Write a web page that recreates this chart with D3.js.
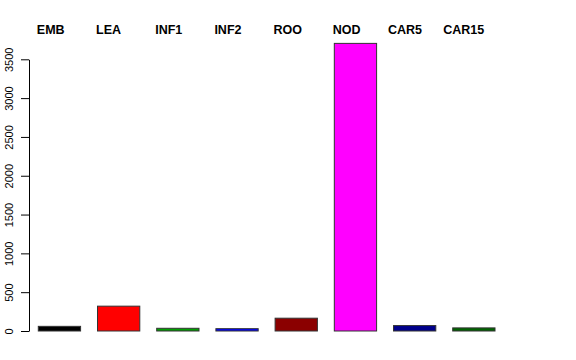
<!DOCTYPE html>
<html>
<head>
<meta charset="utf-8">
<script src="https://cdn.jsdelivr.net/npm/d3@7"></script>
<style>
body{margin:0;background:#fff}
svg{display:block}
text{font-family:"Liberation Sans",Arial,Helvetica,sans-serif}
</style>
</head>
<body>
<svg id="chart" width="576" height="360"></svg>
<script>
// tissues, counts and fill colours
var tissues = ["EMB","LEA","INF1","INF2","ROO","NOD","CAR5","CAR15"]
var counts = [60,320,35,30,165,3705,70,40]
var fills = ["#000000","#ff0000","#00a000","#0000ff","#8b0000","#ff00ff","#00008b","#006400"]
var yticks = [0,500,1000,1500,2000,2500,3000,3500]

var svg = d3.select("#chart")

var x = d3.scaleBand().domain(tissues).range([38.3,495]).paddingInner(0.4/1.4).paddingOuter(0)
var y = d3.scaleLinear().domain([0,3500]).range([331,59.3])

// bars
svg.append("g").selectAll("rect")
	.data(tissues)
	.enter().append("rect")
	.attr("x",function(d){return x(d)})
	.attr("width",x.bandwidth())
	.attr("y",function(d,i){return y(counts[i])})
	.attr("height",function(d,i){return y(0)-y(counts[i])})
	.attr("fill",function(d,i){return fills[i]})
	.attr("stroke","#333")
	.attr("stroke-width",1)

// left axis, R style: rotated labels
var ax = svg.append("g").attr("transform","translate(29,0)")
	.call(d3.axisLeft(y).tickValues(yticks).tickSize(8).tickSizeOuter(0).tickFormat(d3.format("d")))
ax.select(".domain").attr("stroke","#000")
ax.selectAll(".tick line").attr("stroke","#000")
ax.selectAll(".tick text")
	.attr("font-size",11)
	.attr("fill","#000")
	.attr("x",null).attr("dy",null)
	.attr("text-anchor","middle")
	.attr("transform","translate(-16.5,0) rotate(-90)")

// tissue names on top
svg.append("g").selectAll("text")
	.data(tissues)
	.enter().append("text")
	.attr("x",function(d,i){return x(d)-1.5-(i>5 ? (i-5)*4:0)})
	.attr("y",34)
	.attr("font-size",12.5)
	.attr("font-weight","bold")
	.attr("fill","#000")
	.text(function(d){return d})
</script>
</body>
</html>
